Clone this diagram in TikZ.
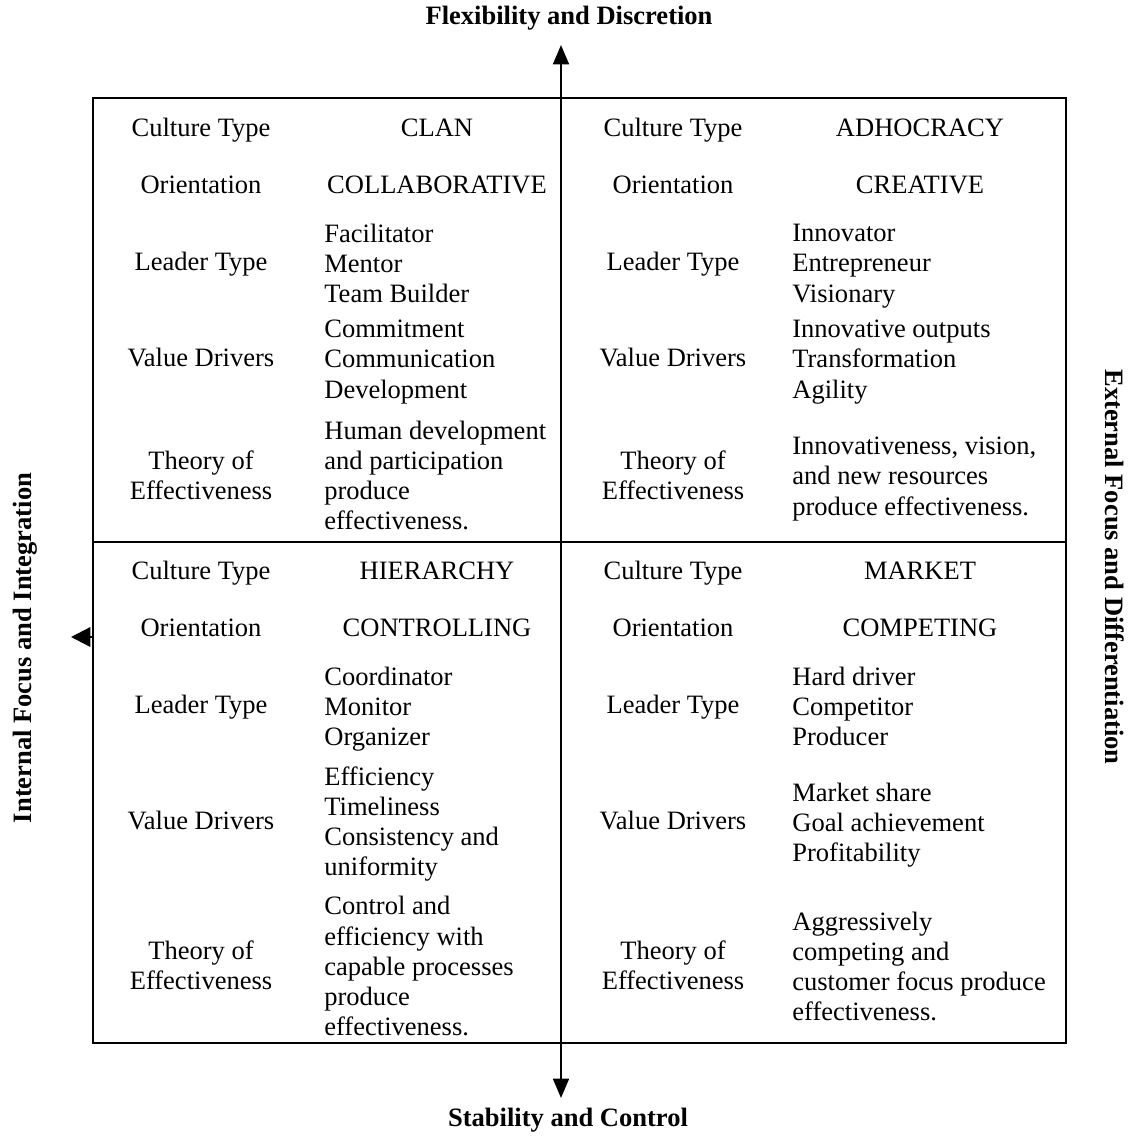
\documentclass[tikz,border=0pt]{standalone}
\usepackage{fontspec}
\setmainfont{Liberation Serif}
\usetikzlibrary{arrows.meta}
\newcommand{\cellfont}{\fontsize{15.1}{17.2}\selectfont}
\tikzset{
    celltext/.style={font=\cellfont, inner sep=0pt, yshift=-1.1pt,
        execute at begin node=\strut, execute at end node=\strut},
    rowlbl/.style={celltext, align=center},
    typelbl/.style={celltext, align=center},
    itemlist/.style={celltext, align=left, anchor=west, yshift=-1.6pt},
    axislbl/.style={font=\cellfont\bfseries, inner sep=0pt},
    gridline/.style={line width=1.3pt, black},
    axisarr/.style={{Triangle[length=11pt,width=9pt]}-{Triangle[length=11pt,width=9pt]}, line width=1.3pt},
    sidearr/.style={-{Triangle[length=11pt,width=11pt]}, line width=1.3pt}
}

\begin{document}
\begin{tikzpicture}[x=0.02cm, y=-0.02cm]
    \useasboundingbox (0,0) rectangle (1138,1135);

    % frame and divider
    \coordinate (boxtl) at (93,98);
    \coordinate (boxbr) at (1066,1043);
    \draw[gridline] (boxtl) rectangle (boxbr);
    \coordinate (midl) at (93,542);
    \coordinate (midr) at (1066,542);
    \draw[gridline] (midl) -- (midr);

    % axes
    \coordinate (axtop) at (561,45);
    \coordinate (axbot) at (561,1098);
    \draw[axisarr] (axbot) -- (axtop);
    \coordinate (lfbase) at (92,637);
    \coordinate (lftip) at (71,637);
    \draw[sidearr] (lfbase) -- (lftip);

    \node[axislbl] (flex) at (569,18) {Flexibility and Discretion};
    \node[axislbl] (stab) at (568,1120) {Stability and Control};
    \node[axislbl, rotate=90] (intl) at (25,648) {Internal Focus and Integration};
    \node[axislbl, rotate=-90] (extl) at (1115,567) {External Focus and Differentiation};

    % top left: clan
    \node[rowlbl] (tlct) at (201,129) {Culture Type};
    \node[rowlbl] (tlor) at (201,186) {Orientation};
    \node[rowlbl] (tllt) at (201,263) {Leader Type};
    \node[rowlbl] (tlvd) at (201,359) {Value Drivers};
    \node[rowlbl] (tlte) at (201,478) {Theory of\\Effectiveness};
    \node[typelbl] (tlctv) at (437,129) {CLAN};
    \node[typelbl] (tlorv) at (437,186) {COLLABORATIVE};
    \node[itemlist] (tlltv) at (324,263) {Facilitator\\Mentor\\Team Builder};
    \node[itemlist] (tlvdv) at (324,359) {Commitment\\Communication\\Development};
    \node[itemlist] (tltev) at (324,475) {Human development\\and participation\\produce\\effectiveness.};

    % top right: adhocracy
    \node[rowlbl] (trct) at (673,129) {Culture Type};
    \node[rowlbl] (tror) at (673,186) {Orientation};
    \node[rowlbl] (trlt) at (673,263) {Leader Type};
    \node[rowlbl] (trvd) at (673,359) {Value Drivers};
    \node[rowlbl] (trte) at (673,478) {Theory of\\Effectiveness};
    \node[typelbl] (trctv) at (920,129) {ADHOCRACY};
    \node[typelbl] (trorv) at (920,186) {CREATIVE};
    \node[itemlist] (trltv) at (792,263) {Innovator\\Entrepreneur\\Visionary};
    \node[itemlist] (trvdv) at (792,359) {Innovative outputs\\Transformation\\Agility};
    \node[itemlist] (trtev) at (792,476) {Innovativeness, vision,\\and new resources\\produce effectiveness.};

    % bottom left: hierarchy
    \node[rowlbl] (blct) at (201,572) {Culture Type};
    \node[rowlbl] (blor) at (201,629) {Orientation};
    \node[rowlbl] (bllt) at (201,706) {Leader Type};
    \node[rowlbl] (blvd) at (201,822) {Value Drivers};
    \node[rowlbl] (blte) at (201,968) {Theory of\\Effectiveness};
    \node[typelbl] (blctv) at (437,572) {HIERARCHY};
    \node[typelbl] (blorv) at (437,629) {CONTROLLING};
    \node[itemlist] (blltv) at (324,706) {Coordinator\\Monitor\\Organizer};
    \node[itemlist] (blvdv) at (324,821) {Efficiency\\Timeliness\\Consistency and\\uniformity};
    \node[itemlist] (bltev) at (324,966) {Control and\\efficiency with\\capable processes\\produce\\effectiveness.};

    % bottom right: market
    \node[rowlbl] (brct) at (673,572) {Culture Type};
    \node[rowlbl] (bror) at (673,629) {Orientation};
    \node[rowlbl] (brlt) at (673,706) {Leader Type};
    \node[rowlbl] (brvd) at (673,822) {Value Drivers};
    \node[rowlbl] (brte) at (673,968) {Theory of\\Effectiveness};
    \node[typelbl] (brctv) at (920,572) {MARKET};
    \node[typelbl] (brorv) at (920,629) {COMPETING};
    \node[itemlist] (brltv) at (792,706) {Hard driver\\Competitor\\Producer};
    \node[itemlist] (brvdv) at (792,822) {Market share\\Goal achievement\\Profitability};
    \node[itemlist] (brtev) at (792,966) {Aggressively\\competing and\\customer focus produce\\effectiveness.};
\end{tikzpicture}
\end{document}
